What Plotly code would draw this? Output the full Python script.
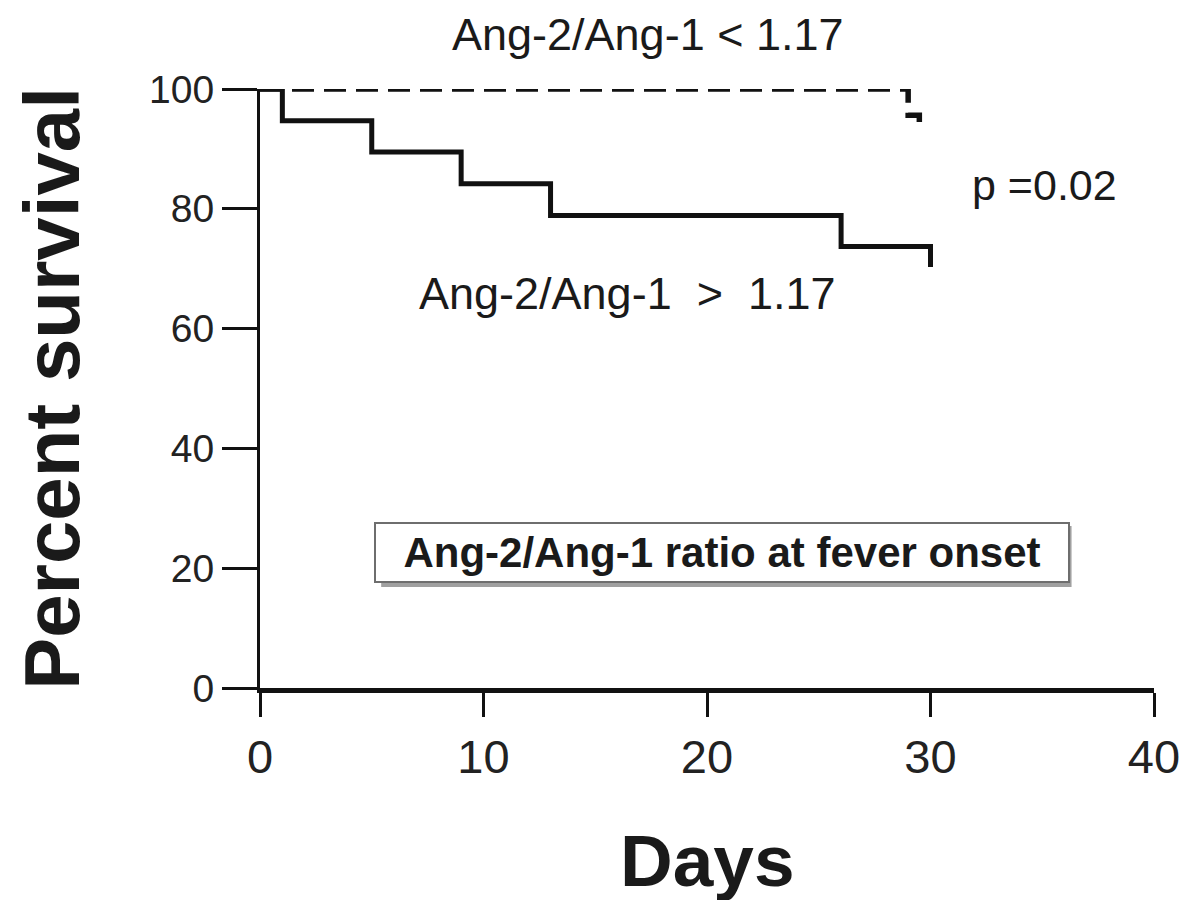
"""Kaplan-Meier survival by Ang-2/Ang-1 ratio at fever onset."""

import plotly.graph_objects as go

# Data
days_high = [0, 1, 5, 9, 13, 26, 30, 30]
surv_high = [100, 94.7, 89.5, 84.2, 78.9, 73.7, 73.7, 70.3]
days_low = [0, 29, 29.5, 29.5]
surv_low = [100, 95.6, 95.6, 94.5]

x_ticks = [0, 10, 20, 30, 40]
y_ticks = [0, 20, 40, 60, 80, 100]

FONT = "Liberation Sans, Arial, sans-serif"
INK = "#111111"

# plot area in page pixels (page body has an 8px margin)
PX0, PX1, PY0, PY1 = 260, 1160, 89, 688


def px(x):
    return (x - PX0) / (PX1 - PX0)


def py(y):
    return (PY1 - y) / (PY1 - PY0)


fig = go.Figure()

fig.add_trace(
    go.Scatter(
        x=days_low,
        y=surv_low,
        mode="lines",
        line=dict(color=INK, width=5.5, dash="22px,10px", shape="hv"),
        cliponaxis=False,
        showlegend=False,
    )
)
fig.add_trace(
    go.Scatter(
        x=days_high,
        y=surv_high,
        mode="lines",
        line=dict(color=INK, width=5, shape="hv"),
        cliponaxis=False,
        showlegend=False,
    )
)


def label(x, y, text, size, **kw):
    fig.add_annotation(x=px(x), y=py(y), xref="paper", yref="paper",
                       xanchor="center", yanchor="middle", text=text,
                       showarrow=False, font=dict(family=FONT, size=size, color="#1a1a1a"),
                       **kw)


label(651, 35, "Ang-2/Ang-1 < 1.17", 45)
label(630, 293, "Ang-2/Ang-1\u00a0\u00a0>\u00a0 1.17", 45)
label(1050, 185, "p =0.02", 43)

# boxed legend note, with a soft shadow
fig.add_shape(type="rect", xref="paper", yref="paper",
              x0=px(382), x1=px(1077), y0=py(587), y1=py(526),
              line=dict(width=0), fillcolor="#a0a0a0", layer="below")
label(725, 552, "<b>Ang-2/Ang-1 ratio at fever onset</b>", 42,
      width=688, height=53, bgcolor="white", bordercolor="#6e6e6e",
      borderwidth=2, borderpad=2)

label(710, 860, "<b>Days</b>", 73)

fig.update_layout(
    width=1184,
    height=892,
    margin=dict(l=PX0 - 8, r=1184 - (PX1 - 8), t=PY0 - 8, b=892 - (PY1 - 8)),
    plot_bgcolor="white",
    paper_bgcolor="white",
    showlegend=False,
)
fig.update_xaxes(
    range=[0, 40],
    tickvals=x_ticks,
    ticks="outside",
    ticklen=24,
    tickwidth=3,
    tickcolor=INK,
    showline=True,
    linewidth=5,
    linecolor=INK,
    showgrid=False,
    zeroline=False,
    tickfont=dict(family=FONT, size=47, color="#222"),
)
fig.update_yaxes(
    range=[0, 100],
    tickvals=y_ticks,
    ticks="outside",
    ticklen=35,
    tickwidth=3,
    tickcolor=INK,
    showline=True,
    linewidth=3,
    linecolor=INK,
    showgrid=False,
    zeroline=False,
    tickfont=dict(family=FONT, size=39, color="#222"),
    title=dict(text="<b>Percent survival</b>", standoff=70,
               font=dict(family=FONT, size=78, color="#1a1a1a")),
)

fig.write_html("out.html")
